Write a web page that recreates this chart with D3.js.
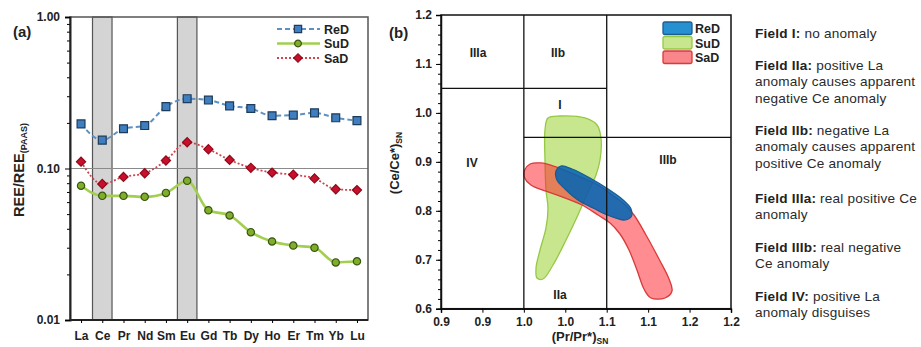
<!DOCTYPE html>
<html>
<head>
<meta charset="utf-8">
<script src="https://cdn.jsdelivr.net/npm/d3@7"></script>
<style>
  body { margin: 0; background: #fff; }
  svg { display: block; font-family: "Liberation Sans", Arial, sans-serif; }
  .bold { font-weight: bold; }
</style>
</head>
<body>
<svg id="chart" width="921" height="347"></svg>
<script>
// panel (a) data
const elements = ["La", "Ce", "Pr", "Nd", "Sm", "Eu", "Gd", "Tb", "Dy", "Ho", "Er", "Tm", "Yb", "Lu"];
const reD = [0.197, 0.154, 0.183, 0.192, 0.256, 0.289, 0.283, 0.259, 0.249, 0.223, 0.225, 0.233, 0.216, 0.207];
const suD = [0.077, 0.066, 0.066, 0.065, 0.069, 0.083, 0.053, 0.049, 0.038, 0.033, 0.031, 0.030, 0.024, 0.0244];
const saD = [0.111, 0.079, 0.088, 0.093, 0.113, 0.149, 0.134, 0.114, 0.101, 0.094, 0.091, 0.086, 0.073, 0.072];
const anomalyBands = ["Ce", "Eu"];
const yTicksA = [1, 0.1, 0.01];

// panel (b) data: fields outlines as [Pr/Pr*, Ce/Ce*]
const suDField = [[1.0291, 0.9896], [1.0436, 0.9937], [1.0738, 0.9896], [1.0883, 0.9753], [1.0931, 0.9487],
  [1.0919, 0.9038], [1.0871, 0.8731], [1.0774, 0.8384], [1.0653, 0.7914], [1.0509, 0.7403], [1.0352, 0.6893],
  [1.0231, 0.6607], [1.0159, 0.6627], [1.0147, 0.6831], [1.0195, 0.7199], [1.0267, 0.7649], [1.0291, 0.8057],
  [1.0267, 0.8425], [1.0255, 0.9038], [1.0255, 0.9651]];
const saDField = [[1.0010, 0.8833], [1.0075, 0.8956], [1.0207, 0.8977], [1.0388, 0.8895], [1.0629, 0.8731],
  [1.0895, 0.8527], [1.1064, 0.8323], [1.1209, 0.8139], [1.1329, 0.7914], [1.1474, 0.7506], [1.1631, 0.7015],
  [1.1752, 0.6607], [1.1788, 0.6362], [1.1703, 0.6219], [1.1534, 0.6219], [1.1450, 0.6402], [1.1365, 0.6790],
  [1.1269, 0.7199], [1.1160, 0.7526], [1.1040, 0.7751], [1.0895, 0.7914], [1.0702, 0.8118], [1.0436, 0.8302],
  [1.0255, 0.8405], [1.0085, 0.8527], [1.0010, 0.8670]];
const reDField = [[1.0388, 0.8813], [1.0448, 0.8915], [1.0581, 0.8854], [1.0798, 0.8670], [1.1016, 0.8445],
  [1.1184, 0.8241], [1.1293, 0.8037], [1.1293, 0.7873], [1.1209, 0.7812], [1.1040, 0.7894], [1.0859, 0.8037],
  [1.0653, 0.8221], [1.0497, 0.8445], [1.0400, 0.8629]];
const xTicksB = [0.9, 0.95, 1.0, 1.05, 1.1, 1.15, 1.2, 1.25];
const xTickLabelsB = ["0.9", "0.9", "1.0", "1.0", "1.1", "1.1", "1.2", "1.2"];
const yTicksB = [0.6, 0.7, 0.8, 0.9, 1.0, 1.1, 1.2];
const fieldNames = ["IIIa", "IIb", "I", "IV", "IIIb", "IIa"];
const fieldLabelPos = [[0.9447, 1.122], [1.0412, 1.122], [1.0436, 1.016], [0.9374, 0.898], [1.174, 0.904], [1.0436, 0.628]];

// notes
const noteHeads = ["Field I:", "Field IIa:", "Field IIb:", "Field IIIa:", "Field IIIb:", "Field IV:"];
const noteLines = [
  ["no anomaly"],
  ["positive La", "anomaly causes apparent", "negative Ce anomaly"],
  ["negative La", "anomaly causes apparent", "positive Ce anomaly"],
  ["real positive Ce", "anomaly"],
  ["real negative", "Ce anomaly"],
  ["positive La", "anomaly disguises"]
];

const svg = d3.select("#chart");

// ---------- panel (a)
const A = { left: 70, right: 368, top: 17, bottom: 320 };
const xA = d3.scalePoint().domain(elements).range([A.left, A.right]).padding(0.52);
const yA = d3.scaleLog().domain([0.01, 1]).range([A.bottom, A.top]);
const gA = svg.append("g");

// gray bands
gA.selectAll("rect.band")
  .data(anomalyBands)
  .enter()
  .append("rect")
  .attr("x", (d) => xA(d) - xA.step() * 0.46)
  .attr("y", A.top)
  .attr("width", xA.step() * 0.92)
  .attr("height", A.bottom - A.top)
  .attr("fill", "#d4d4d4")
  .attr("stroke", "#555")
  .attr("stroke-width", 1.2);

// 0.10 line
gA.append("line")
  .attr("x1", A.left).attr("x2", A.right)
  .attr("y1", yA(0.1)).attr("y2", yA(0.1))
  .attr("stroke", "#8a8a8a").attr("stroke-width", 1.2);

// frame
gA.append("rect")
  .attr("x", A.left).attr("y", A.top)
  .attr("width", A.right - A.left).attr("height", A.bottom - A.top)
  .attr("fill", "none").attr("stroke", "#555").attr("stroke-width", 1.5);

// axes
const minorA = [];
[0.01, 0.1].forEach((dec) => { for (let k = 2; k <= 9; k++) minorA.push(dec * k); });
gA.append("g")
  .attr("transform", `translate(${A.left},0)`)
  .call(d3.axisLeft(yA).tickValues(minorA).tickSize(3).tickFormat(""))
  .call((g) => g.select(".domain").remove());
gA.append("g")
  .attr("transform", `translate(${A.left},0)`)
  .call(d3.axisLeft(yA).tickValues(yTicksA).tickSize(5).tickPadding(5).tickFormat(d3.format(".2f")))
  .attr("font-size", 12)
  .attr("font-family", null)
  .attr("font-weight", "bold")
  .call((g) => g.select(".domain").attr("stroke", "#222").attr("stroke-width", 2));
gA.append("g")
  .attr("transform", `translate(0,${A.bottom})`)
  .call(d3.axisBottom(xA).tickSize(3).tickPadding(8))
  .attr("font-size", 12)
  .attr("font-family", null)
  .attr("font-weight", "bold")
  .call((g) => g.select(".domain").attr("d", `M${A.left},0H${A.right}`).attr("stroke", "#222").attr("stroke-width", 2));
gA.selectAll(".tick text").attr("fill", "#222");

// series
const seriesA = [
  { name: "ReD", values: reD, line: "#5f90c2", width: 2, dash: "5,3", marker: "square", fill: "#3f7fbf", stroke: "#1d3b5a" },
  { name: "SuD", values: suD, line: "#a2cf4f", width: 2.6, dash: null, marker: "circle", fill: "#7fae2b", stroke: "#3a5512" },
  { name: "SaD", values: saD, line: "#d2424c", width: 1.8, dash: "2,2", marker: "diamond", fill: "#c8102e", stroke: "#8e0a18" }
];
// diamond = square turned 45 degrees
const symbolOf = { square: d3.symbolSquare, circle: d3.symbolCircle, diamond: d3.symbolSquare };
const sizeOf = { square: 62, circle: 42, diamond: 42 };
const turnOf = { square: 0, circle: 0, diamond: 45 };

const lineA = d3.line()
  .x((d, i) => xA(elements[i]))
  .y((d) => yA(d))
  .curve(d3.curveMonotoneX);

seriesA.forEach((s) => {
  gA.append("path")
    .datum(s.values)
    .attr("d", lineA)
    .attr("fill", "none")
    .attr("stroke", s.line)
    .attr("stroke-width", s.width)
    .attr("stroke-dasharray", s.dash);
  gA.append("g")
    .selectAll("path")
    .data(s.values)
    .enter()
    .append("path")
    .attr("transform", (d, i) => `translate(${xA(elements[i])},${yA(d)}) rotate(${turnOf[s.marker]})`)
    .attr("d", d3.symbol().type(symbolOf[s.marker]).size(sizeOf[s.marker]))
    .attr("fill", s.fill)
    .attr("stroke", s.stroke)
    .attr("stroke-width", 1.2);
});

// legend (a)
const legA = gA.append("g");
seriesA.forEach((s, i) => {
  const y = 29 + i * 14.5;
  legA.append("line")
    .attr("x1", 277).attr("x2", 320).attr("y1", y).attr("y2", y)
    .attr("stroke", s.line).attr("stroke-width", s.width).attr("stroke-dasharray", s.dash);
  legA.append("path")
    .attr("transform", `translate(298,${y}) rotate(${turnOf[s.marker]})`)
    .attr("d", d3.symbol().type(symbolOf[s.marker]).size(sizeOf[s.marker] * 0.85))
    .attr("fill", s.fill).attr("stroke", s.stroke).attr("stroke-width", 1.2);
  legA.append("text")
    .attr("x", 324).attr("y", y + 4.5)
    .attr("class", "bold").attr("font-size", 12.5).attr("fill", "#222")
    .text(s.name);
});

svg.append("text").attr("x", 13).attr("y", 37).attr("class", "bold").attr("font-size", 15).attr("fill", "#222").text("(a)");
const yLabA = svg.append("text")
  .attr("transform", "translate(24,170) rotate(-90)")
  .attr("text-anchor", "middle").attr("class", "bold").attr("font-size", 14.5).attr("fill", "#222");
yLabA.append("tspan").text("REE/REE");
yLabA.append("tspan").attr("font-size", 9).attr("dy", 3).text("(PAAS)");

// ---------- panel (b)
const B = { left: 441, right: 731, top: 15, bottom: 308.7 };
const xB = d3.scaleLinear().domain([0.9, 1.25]).range([B.left, B.right]);
const yB = d3.scaleLinear().domain([0.6, 1.2]).range([B.bottom, B.top]);
const gB = svg.append("g");

// field outlines
const shape = d3.line()
  .x((d) => xB(d[0]))
  .y((d) => yB(d[1]))
  .curve(d3.curveCatmullRomClosed.alpha(0.5));
const fieldsB = [
  { name: "SuD", pts: suDField, fill: "#c8e68e", stroke: "#95c945", legendFill: "#c8e68e" },
  { name: "SaD", pts: saDField, fill: "rgba(255,25,35,0.5)", stroke: "#d93a3a", legendFill: "#f8868a" },
  { name: "ReD", pts: reDField, fill: "rgba(0,100,180,0.86)", stroke: "#1b5c92", legendFill: "#2690d0" }
];
fieldsB.forEach((f) => {
  gB.append("path")
    .datum(f.pts)
    .attr("d", shape)
    .attr("fill", f.fill)
    .attr("stroke", f.stroke)
    .attr("stroke-width", 1.3);
});

// field boundaries
const vLines = [1.0, 1.1];
gB.selectAll("line.v")
  .data(vLines)
  .enter()
  .append("line")
  .attr("x1", (d) => xB(d)).attr("x2", (d) => xB(d))
  .attr("y1", B.top).attr("y2", B.bottom)
  .attr("stroke", "#111").attr("stroke-width", 1.3);
const hLines = [[0.9, 1.1, 1.05], [1.0, 1.25, 0.95]];
gB.selectAll("line.h")
  .data(hLines)
  .enter()
  .append("line")
  .attr("x1", (d) => xB(d[0])).attr("x2", (d) => xB(d[1]))
  .attr("y1", (d) => yB(d[2])).attr("y2", (d) => yB(d[2]))
  .attr("stroke", "#111").attr("stroke-width", 1.3);

gB.append("rect")
  .attr("x", B.left).attr("y", B.top)
  .attr("width", B.right - B.left).attr("height", B.bottom - B.top)
  .attr("fill", "none").attr("stroke", "#111").attr("stroke-width", 1.5);

// field names
gB.selectAll("text.field")
  .data(fieldNames)
  .enter()
  .append("text")
  .attr("x", (d, i) => xB(fieldLabelPos[i][0]))
  .attr("y", (d, i) => yB(fieldLabelPos[i][1]) + 4)
  .attr("text-anchor", "middle")
  .attr("class", "bold").attr("font-size", 12).attr("fill", "#222")
  .text((d) => d);

// axes (b)
gB.append("g")
  .attr("transform", `translate(${B.left},0)`)
  .call(d3.axisLeft(yB).tickValues(d3.range(0.6, 1.2001, 0.02)).tickSize(3).tickFormat(""))
  .call((g) => g.select(".domain").remove());
gB.append("g")
  .attr("transform", `translate(${B.left},0)`)
  .call(d3.axisLeft(yB).tickValues(yTicksB).tickSize(5).tickPadding(4).tickFormat(d3.format(".1f")))
  .attr("font-size", 12).attr("font-family", null).attr("font-weight", "bold")
  .call((g) => g.select(".domain").attr("stroke", "#111").attr("stroke-width", 1.5));
gB.append("g")
  .attr("transform", `translate(0,${B.bottom})`)
  .call(d3.axisBottom(xB).tickValues(xTicksB).tickSize(4).tickPadding(5).tickFormat((d, i) => xTickLabelsB[i]))
  .attr("font-size", 12).attr("font-family", null).attr("font-weight", "bold")
  .call((g) => g.select(".domain").attr("stroke", "#111").attr("stroke-width", 1.5));
gB.selectAll(".tick text").attr("fill", "#222");

// legend (b)
const legOrder = ["ReD", "SuD", "SaD"];
legOrder.forEach((name, i) => {
  const f = fieldsB.find((d) => d.name === name);
  const y = 22 + i * 14.5;
  gB.append("rect")
    .attr("x", 663).attr("y", y).attr("width", 29).attr("height", 12.5).attr("rx", 2)
    .attr("fill", f.legendFill).attr("stroke", f.stroke).attr("stroke-width", 1.3);
  gB.append("text")
    .attr("x", 695).attr("y", y + 11)
    .attr("class", "bold").attr("font-size", 12.5).attr("fill", "#222")
    .text(name);
});

svg.append("text").attr("x", 389).attr("y", 38).attr("class", "bold").attr("font-size", 15).attr("fill", "#222").text("(b)");
const yLabB = svg.append("text")
  .attr("transform", "translate(399,163) rotate(-90)")
  .attr("text-anchor", "middle").attr("class", "bold").attr("font-size", 13).attr("fill", "#222");
yLabB.append("tspan").text("(Ce/Ce*)");
yLabB.append("tspan").attr("font-size", 8.5).attr("dy", 3).text("SN");
const xLabB = svg.append("text")
  .attr("x", 580).attr("y", 341)
  .attr("text-anchor", "middle").attr("class", "bold").attr("font-size", 13).attr("fill", "#222");
xLabB.append("tspan").text("(Pr/Pr*)");
xLabB.append("tspan").attr("font-size", 8.5).attr("dy", 3).text("SN");

// ---------- notes
const noteTop = [33, 65, 130, 198, 247, 296];
const notes = svg.append("g").attr("font-size", 13.6).attr("letter-spacing", 0.2).attr("fill", "#2a2a2a");
noteHeads.forEach((head, i) => {
  noteLines[i].forEach((ln, j) => {
    const t = notes.append("text").attr("x", 755).attr("y", noteTop[i] + j * 16.3 + 5);
    if (j === 0) {
      t.append("tspan").attr("class", "bold").attr("fill", "#222").text(head + " ");
    }
    t.append("tspan").text(ln);
  });
});
</script>
</body>
</html>
